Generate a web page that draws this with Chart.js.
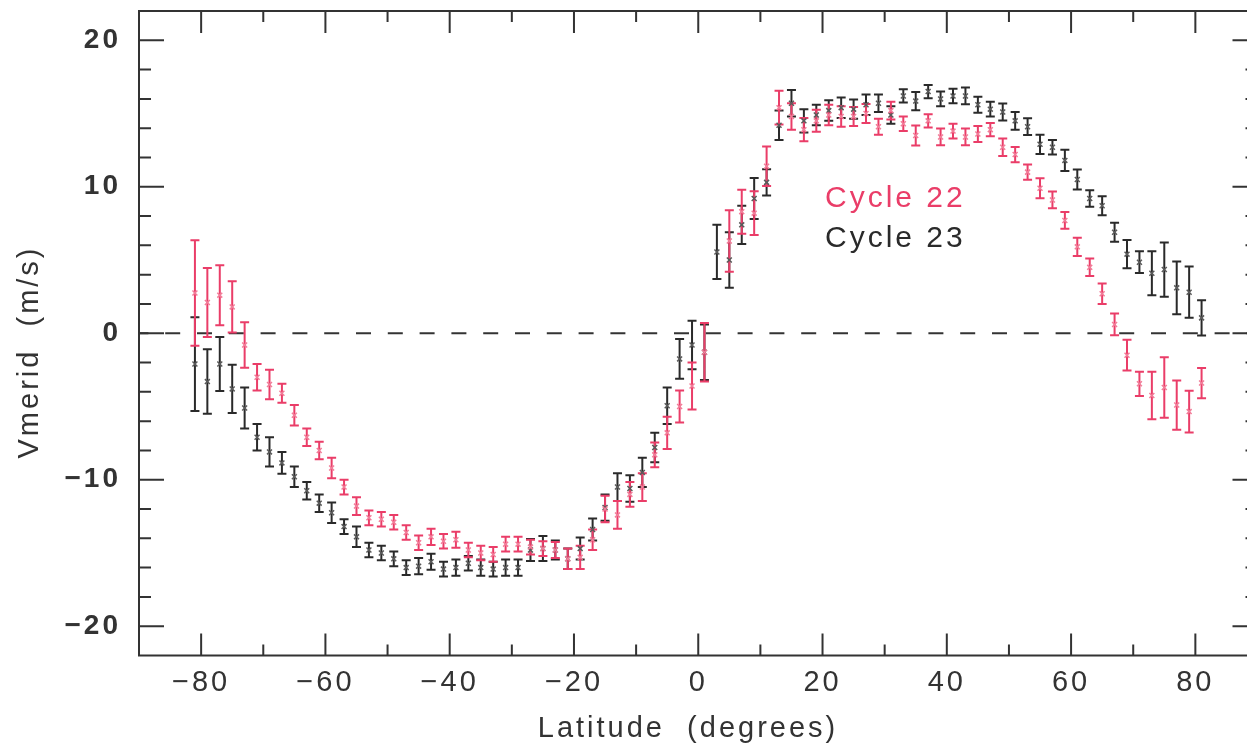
<!DOCTYPE html>
<html>
<head>
<meta charset="utf-8">
<title>Vmerid vs latitude</title>
<script src="https://cdn.jsdelivr.net/npm/chart.js@4.4.1/dist/chart.umd.min.js"></script>
<style>
  html, body { margin: 0; padding: 0; background: #fff; overflow: hidden; }
  canvas { display: block; }
</style>
</head>
<body>
<canvas id="chart" width="1263" height="746"></canvas>
<script>
// ======== DATA ========
const latitudes = [
  -81,-79,-77,-75,-73,-71,-69,-67,-65,-63,
  -61,-59,-57,-55,-53,-51,-49,-47,-45,-43,
  -41,-39,-37,-35,-33,-31,-29,-27,-25,-23,
  -21,-19,-17,-15,-13,-11, -9, -7, -5, -3,
   -1,  1,  3,  5,  7,  9, 11, 13, 15, 17,
   19, 21, 23, 25, 27, 29, 31, 33, 35, 37,
   39, 41, 43, 45, 47, 49, 51, 53, 55, 57,
   59, 61, 63, 65, 67, 69, 71, 73, 75, 77,
   79, 81
];

// Cycle 22 (pink)
const cycle22 = [
  2.75, 2.1, 2.6, 1.8, -0.8, -3.0, -3.5, -4.1, -5.6, -7.1,
  -8.0, -9.2, -10.5, -11.8, -12.6, -12.7, -12.9, -13.6, -14.3, -13.9,
  -14.2, -14.1, -14.8, -15.0, -15.1, -14.4, -14.4, -14.6, -14.7, -14.8,
  -15.4, -15.3, -14.1, -12.0, -12.4, -11.0, -10.5, -8.3, -6.8, -5.0,
  -3.6, -1.3, null, 6.3, 8.3, 8.2, 11.4, 15.4, 14.8, 13.9,
  14.5, 14.9, 14.8, 14.8, 15.0, 14.1, 15.2, 14.3, 13.5, 14.5,
  13.4, 13.8, 13.4, 13.6, 13.9, 12.7, 12.2, 11.0, 9.9, 9.1,
  7.7, 5.9, 4.5, 2.7, 0.6, -1.5, -3.45, -4.25, -3.7, -4.9,
  -5.35, -3.4
];
const cycle22Err = [
  3.6, 2.35, 2.05, 1.75, 1.55, 0.9, 1.0, 0.65, 0.7, 0.6,
  0.6, 0.7, 0.5, 0.6, 0.5, 0.5, 0.5, 0.5, 0.5, 0.55,
  0.5, 0.55, 0.5, 0.5, 0.5, 0.5, 0.5, 0.5, 0.5, 0.55,
  0.7, 0.8, 0.7, 0.9, 0.95, 0.85, 0.95, 0.85, 1.1, 1.1,
  1.6, 2.0, null, 2.1, 1.5, 1.5, 1.35, 1.15, 0.9, 0.8,
  0.75, 0.7, 0.7, 0.65, 0.65, 0.55, 0.6, 0.5, 0.68, 0.45,
  0.57, 0.5, 0.57, 0.55, 0.45, 0.6, 0.52, 0.52, 0.68, 0.57,
  0.57, 0.62, 0.6, 0.7, 0.74, 1.05, 0.83, 1.62, 2.07, 1.68,
  1.43, 1.03
];

// Cycle 23 (black)
const cycle23 = [
  -2.1, -3.3, -2.1, -3.8, -5.1, -7.1, -8.1, -8.85, -9.8, -10.75,
  -11.6, -12.25, -13.2, -13.9, -14.8, -15.0, -15.4, -16.0, -15.9, -15.6,
  -16.1, -16.0, -15.7, -16.0, -16.1, -16.0, -16.0, -14.8, -14.7, -14.8,
  -15.4, -14.7, -13.4, -11.9, -10.5, -10.6, -9.5, -7.8, -4.95, -1.75,
  -0.8, -1.3, 5.55, 5.0, 7.4, 9.2, 10.3, 14.2, 15.7, 14.5,
  14.9, 15.2, 15.4, 15.3, 15.6, 15.7, 14.9, 16.2, 15.85, 16.5,
  16.0, 16.2, 16.2, 15.6, 15.3, 15.1, 14.5, 14.1, 12.9, 12.7,
  11.8, 10.5, 9.2, 8.7, 6.9, 5.4, 4.85, 4.1, 4.35, 3.1,
  2.8, 1.05
];
const cycle23Err = [
  3.2, 2.2, 1.85, 1.65, 1.4, 0.9, 1.0, 0.75, 0.7, 0.6,
  0.6, 0.7, 0.5, 0.7, 0.5, 0.5, 0.5, 0.5, 0.55, 0.55,
  0.5, 0.55, 0.5, 0.55, 0.5, 0.55, 0.55, 0.75, 0.85, 0.65,
  0.7, 0.75, 0.75, 0.9, 0.95, 0.9, 1.0, 1.0, 1.25, 1.35,
  1.65, 1.9, 1.85, 1.9, 1.3, 1.4, 0.9, 1.0, 0.9, 0.8,
  0.7, 0.7, 0.7, 0.65, 0.7, 0.6, 0.6, 0.45, 0.62, 0.45,
  0.5, 0.5, 0.57, 0.55, 0.5, 0.58, 0.6, 0.57, 0.66, 0.5,
  0.72, 0.68, 0.57, 0.65, 0.65, 0.97, 0.74, 1.5, 1.85, 1.8,
  1.75, 1.2
];

// axis ticks
const xMajorTicks = [-80, -60, -40, -20, 0, 20, 40, 60, 80];
const xMinorTicks = [-70, -50, -30, -10, 10, 30, 50, 70];
const yMajorTicks = [-20, -10, 0, 10, 20];
const yMinorTicks = [-18, -16, -14, -12, -8, -6, -4, -2, 2, 4, 6, 8, 12, 14, 16, 18];

// ======== STYLE ========
const FONT = '"Liberation Sans", Arial, Helvetica, sans-serif';
const PINK = '#ea3d68';
const PINK_PT = '#f27d99';
const DARK = '#2a2a2a';
const DARK_PT = '#5a5a5a';
const AXIS = '#333333';
const TEXT = '#333333';

const fmt = v => String(v).replace('-', '\u2212');
const toPoints = (vals) => latitudes.map((lat, i) => ({ x: lat, y: vals[i] }));
// keep the plot box where the figure has it: no extra label padding
const noPad = s => { s.paddingTop = 0; s.paddingBottom = 0; s.paddingLeft = 0; s.paddingRight = 0; };

// ======== PLUGINS ========
const spacing = {
  id: 'spacing',
  beforeDraw(chart) { chart.ctx.letterSpacing = '3px'; }
};

const errorBars = {
  id: 'errorBars',
  beforeDatasetsDraw(chart) {
    const { ctx, scales: { y } } = chart;
    ctx.save();
    ctx.lineWidth = 2;
    for (let di = chart.data.datasets.length - 1; di >= 0; di--) {
      const ds = chart.data.datasets[di];
      const meta = chart.getDatasetMeta(di);
      ctx.strokeStyle = ds.barColor;
      ctx.beginPath();
      meta.data.forEach((pt, i) => {
        const v = ds.data[i].y, e = ds.errors[i];
        if (v == null || e == null) return;
        const top = y.getPixelForValue(v + e), bot = y.getPixelForValue(v - e);
        ctx.moveTo(pt.x, top); ctx.lineTo(pt.x, bot);
        ctx.moveTo(pt.x - 4.5, top); ctx.lineTo(pt.x + 4.5, top);
        ctx.moveTo(pt.x - 4.5, bot); ctx.lineTo(pt.x + 4.5, bot);
      });
      ctx.stroke();
    }
    ctx.restore();
  }
};

const zeroLine = {
  id: 'zeroLine',
  beforeDatasetsDraw(chart) {
    const { ctx, chartArea: a, scales: { y } } = chart;
    const py = y.getPixelForValue(0);
    ctx.save();
    ctx.strokeStyle = AXIS; ctx.lineWidth = 2;
    ctx.setLineDash([15, 16.8]); ctx.lineDashOffset = 5.6;
    ctx.beginPath(); ctx.moveTo(a.left, py); ctx.lineTo(a.right, py); ctx.stroke();
    ctx.restore();
  }
};

const frame = {
  id: 'frame',
  afterDatasetsDraw(chart) {
    const { ctx, chartArea: a, scales: { x, y } } = chart;
    ctx.save();
    ctx.strokeStyle = AXIS; ctx.lineWidth = 2;
    ctx.strokeRect(a.left, a.top, a.right - a.left, a.bottom - a.top);
    ctx.beginPath();
    const xt = (v, len) => {
      const p = x.getPixelForValue(v);
      ctx.moveTo(p, a.bottom); ctx.lineTo(p, a.bottom - len);
      ctx.moveTo(p, a.top); ctx.lineTo(p, a.top + len);
    };
    const yt = (v, len) => {
      const p = y.getPixelForValue(v);
      ctx.moveTo(a.left, p); ctx.lineTo(a.left + len, p);
      ctx.moveTo(a.right, p); ctx.lineTo(a.right - len, p);
    };
    xMajorTicks.forEach(v => xt(v, 22));
    xMinorTicks.forEach(v => xt(v, 11));
    yMajorTicks.forEach(v => yt(v, 25));
    yMinorTicks.forEach(v => yt(v, 12));
    ctx.stroke();
    ctx.restore();
  },
  afterDraw(chart) {
    const ctx = chart.ctx;
    ctx.save();
    ctx.letterSpacing = '3px';
    ctx.font = '29px ' + FONT;
    ctx.fillStyle = TEXT;
    ctx.textAlign = 'center'; ctx.textBaseline = 'middle';
    ctx.fillText('Latitude  (degrees)', 688, 729);
    ctx.save();
    ctx.translate(30, 352); ctx.rotate(-Math.PI / 2);
    ctx.fillText('Vmerid  (m/s)', 0, 0);
    ctx.restore();
    ctx.font = '30px ' + FONT;
    ctx.textAlign = 'left'; ctx.textBaseline = 'alphabetic';
    ctx.fillStyle = PINK;
    ctx.fillText('Cycle 22', 825, 207);
    ctx.fillStyle = DARK;
    ctx.fillText('Cycle 23', 825, 247);
    ctx.restore();
  }
};

// ======== CHART ========
new Chart(document.getElementById('chart'), {
  type: 'scatter',
  data: {
    datasets: [
      { label: 'Cycle 22', data: toPoints(cycle22), errors: cycle22Err, barColor: PINK,
        pointStyle: 'crossRot', pointRadius: 3.5, pointBorderWidth: 1.5,
        borderColor: PINK_PT, backgroundColor: PINK_PT },
      { label: 'Cycle 23', data: toPoints(cycle23), errors: cycle23Err, barColor: DARK,
        pointStyle: 'crossRot', pointRadius: 3.5, pointBorderWidth: 1.5,
        borderColor: DARK_PT, backgroundColor: DARK_PT }
    ]
  },
  options: {
    responsive: false,
    animation: false,
    devicePixelRatio: 1,
    layout: { padding: { top: 11, right: 3.5, left: 0, bottom: 0 } },
    plugins: { legend: { display: false }, tooltip: { enabled: false } },
    scales: {
      x: {
        type: 'linear', min: -90, max: 90,
        grid: { display: false, drawTicks: false },
        border: { display: false },
        afterBuildTicks: s => { s.ticks = xMajorTicks.map(v => ({ value: v })); },
        afterFit: s => { s.height = 90.5; noPad(s); },
        ticks: { padding: 10, autoSkip: false, maxRotation: 0, color: TEXT,
                 font: { family: FONT, size: 29 }, callback: fmt }
      },
      y: {
        type: 'linear', min: -22, max: 22,
        grid: { display: false, drawTicks: false },
        border: { display: false },
        afterBuildTicks: s => { s.ticks = yMajorTicks.map(v => ({ value: v })); },
        afterFit: s => { s.width = 139; noPad(s); },
        ticks: { padding: 18, autoSkip: false, color: TEXT,
                 font: { family: FONT, size: 28, weight: 'bold' }, callback: fmt }
      }
    }
  },
  plugins: [spacing, zeroLine, errorBars, frame]
});
</script>
</body>
</html>
